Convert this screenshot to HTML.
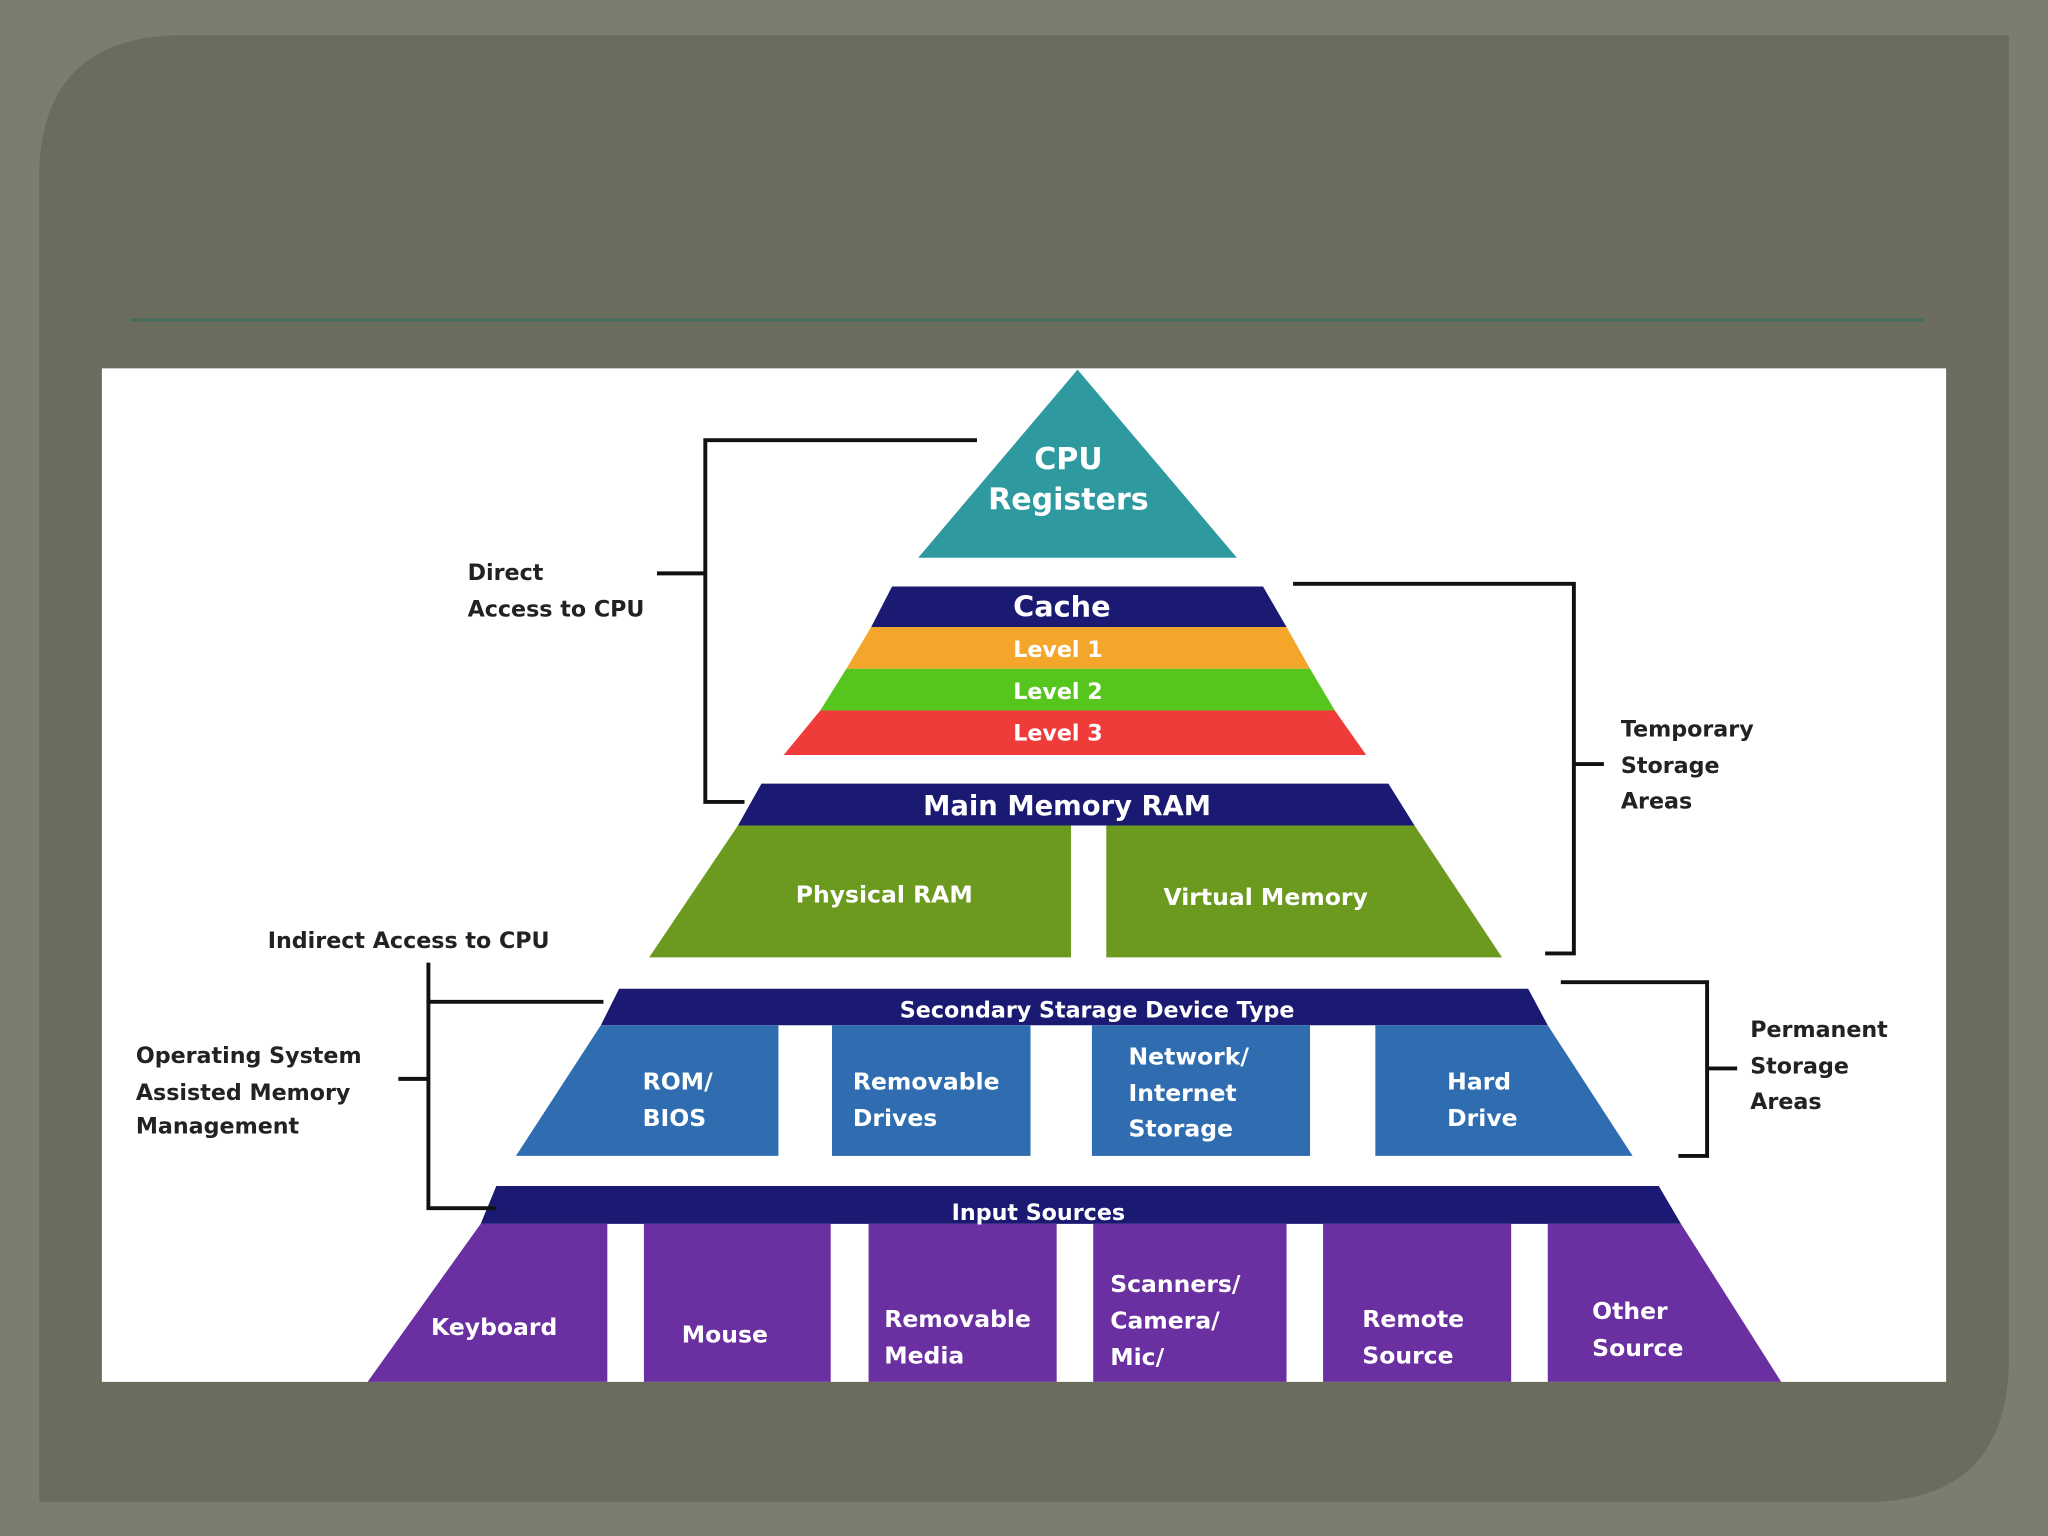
<!DOCTYPE html>
<html><head><meta charset="utf-8"><style>
html,body{margin:0;padding:0;width:2048px;height:1536px;overflow:hidden;background:#7a7c6f}
svg{display:block}
text{font-family:"DejaVu Sans","Liberation Sans",sans-serif;font-weight:bold}
</style></head><body>
<svg width="2048" height="1536" viewBox="0 0 1568 1176" xmlns="http://www.w3.org/2000/svg">
<rect x="0" y="0" width="1568" height="1176" fill="#7b7d70"/>
<path d="M140 27 H1538 V1040 Q1538 1150 1428 1150 H30 V137 Q30 27 140 27 Z" fill="#6a6c5d"/>
<line x1="100" y1="245" x2="1473" y2="245" stroke="#3e6e5c" stroke-width="2"/>
<defs><clipPath id="c"><rect x="78" y="282" width="1412" height="776"/></clipPath></defs>
<rect x="78" y="282" width="1412" height="776" fill="#fff"/>
<g clip-path="url(#c)">
<polygon points="825,283 947,427 703,427" fill="#2e9aa0"/>
<polygon points="683,449 967,449 985,480 667,480" fill="#1b1a72"/>
<polygon points="667,480 985,480 1003,512 648,512" fill="#f4a62a"/>
<polygon points="648,512 1003,512 1022,544 628,544" fill="#56c61f"/>
<polygon points="628,544 1022,544 1046,578 600,578" fill="#f03b3b"/>
<polygon points="583,600 1063,600 1083,632 565,632" fill="#1b1a72"/>
<polygon points="565,632 820,632 820,733 497,733" fill="#6b9a1f"/>
<polygon points="847,632 1083,632 1150,733 847,733" fill="#6b9a1f"/>
<polygon points="474,757 1170,757 1185,785 460,785" fill="#1b1a72"/>
<polygon points="460,785 596,785 596,885 395,885" fill="#2f6db0"/>
<rect x="637" y="785" width="152" height="100" fill="#2f6db0"/>
<rect x="836" y="785" width="167" height="100" fill="#2f6db0"/>
<polygon points="1053,785 1185,785 1250,885 1053,885" fill="#2f6db0"/>
<polygon points="380,908 1270,908 1287,937 368,937" fill="#1b1a72"/>
<polygon points="368,937 465,937 465,1060 280,1060" fill="#6a2fa0"/>
<rect x="493" y="937" width="143" height="123" fill="#6a2fa0"/>
<rect x="665" y="937" width="144" height="123" fill="#6a2fa0"/>
<rect x="837" y="937" width="148" height="123" fill="#6a2fa0"/>
<rect x="1013" y="937" width="144" height="123" fill="#6a2fa0"/>
<polygon points="1185,937 1287,937 1365,1060 1185,1060" fill="#6a2fa0"/>
<g fill="#fff" font-size="20">
<text x="818" y="359" text-anchor="middle" font-size="23">CPU</text>
<text x="818" y="390" text-anchor="middle" font-size="23">Registers</text>
<text x="813" y="472" text-anchor="middle" font-size="22">Cache</text>
<text x="810" y="503" text-anchor="middle" font-size="17">Level 1</text>
<text x="810" y="535" text-anchor="middle" font-size="17">Level 2</text>
<text x="810" y="567" text-anchor="middle" font-size="17">Level 3</text>
<text x="817" y="624" text-anchor="middle" font-size="21">Main Memory RAM</text>
<text x="677" y="691" text-anchor="middle" font-size="18">Physical RAM</text>
<text x="969" y="693" text-anchor="middle" font-size="18">Virtual Memory</text>
<text x="840" y="779" text-anchor="middle" font-size="17">Secondary Starage Device Type</text>
<g font-size="18">
<text x="492" y="834">ROM/</text><text x="492" y="862">BIOS</text>
<text x="653" y="834">Removable</text><text x="653" y="862">Drives</text>
<text x="864" y="815">Network/</text><text x="864" y="843">Internet</text><text x="864" y="870">Storage</text>
<text x="1108" y="834">Hard</text><text x="1108" y="862">Drive</text>
</g>
<text x="795" y="934" text-anchor="middle" font-size="17">Input Sources</text>
<g font-size="18">
<text x="330" y="1022">Keyboard</text>
<text x="522" y="1028">Mouse</text>
<text x="677" y="1016">Removable</text><text x="677" y="1044">Media</text>
<text x="850" y="989">Scanners/</text><text x="850" y="1017">Camera/</text><text x="850" y="1045">Mic/</text><text x="850" y="1073">Video</text>
<text x="1043" y="1016">Remote</text><text x="1043" y="1044">Source</text>
<text x="1219" y="1010">Other</text><text x="1219" y="1038">Source</text>
</g>
</g>
<g stroke="#111" stroke-width="3" fill="none">
<polyline points="748,337 540,337 540,614 570,614"/>
<line x1="503" y1="439" x2="540" y2="439"/>
<polyline points="990,447 1205,447 1205,730 1183,730"/>
<line x1="1205" y1="585" x2="1228" y2="585"/>
<polyline points="462,767 328,767 328,925 380,925"/>
<line x1="328" y1="737" x2="328" y2="767"/>
<line x1="305" y1="826" x2="328" y2="826"/>
<polyline points="1195,752 1307,752 1307,885 1285,885"/>
<line x1="1307" y1="818" x2="1330" y2="818"/>
</g>
<g fill="#222" font-size="17">
<text x="358" y="444">Direct</text><text x="358" y="472">Access to CPU</text>
<text x="1241" y="564">Temporary</text><text x="1241" y="592">Storage</text><text x="1241" y="619">Areas</text>
<text x="205" y="726">Indirect Access to CPU</text>
<text x="104" y="814">Operating System</text><text x="104" y="842">Assisted Memory</text><text x="104" y="868">Management</text>
<text x="1340" y="794">Permanent</text><text x="1340" y="822">Storage</text><text x="1340" y="849">Areas</text>
</g>
</g>
</svg>
</body></html>
